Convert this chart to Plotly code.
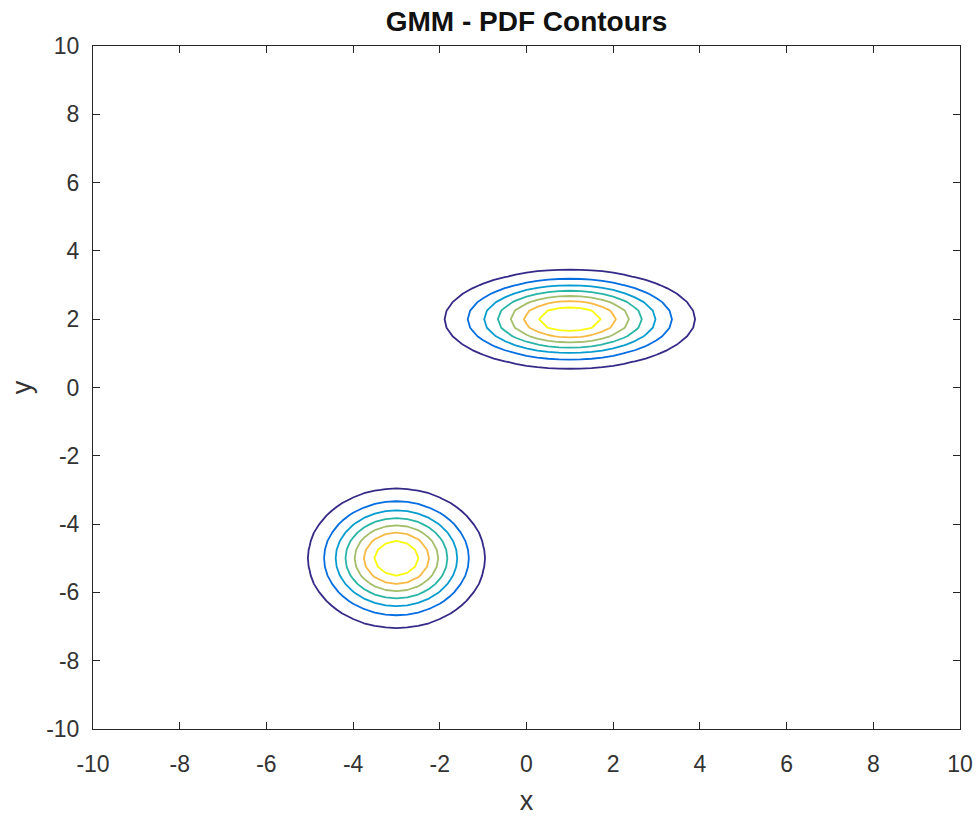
import numpy as np
import plotly.graph_objects as go

# GMM parameters
weights = [0.5, 0.5]
mean_x = [1.0, -3.0]
mean_y = [2.0, -5.0]
var_x = [2.0, 1.0]
var_y = [0.5, 1.0]

# contour levels (MATLAB auto levels)
level_start = 0.01
level_end = 0.07
level_step = 0.01

x_ticks = [-10, -8, -6, -4, -2, 0, 2, 4, 6, 8, 10]
y_ticks = [-10, -8, -6, -4, -2, 0, 2, 4, 6, 8, 10]

gx = np.linspace(-10, 10, 81)
gy = np.linspace(-10, 10, 81)
X, Y = np.meshgrid(gx, gy)
Z = np.zeros_like(X)
for w, mx, my, vx, vy in zip(weights, mean_x, mean_y, var_x, var_y):
    Z += w / (2 * np.pi * np.sqrt(vx * vy)) * np.exp(-0.5 * ((X - mx) ** 2 / vx + (Y - my) ** 2 / vy))

parula = [
    [0.0, "rgb(53,42,135)"],
    [1/6, "rgb(4,109,224)"],
    [2/6, "rgb(7,156,207)"],
    [3/6, "rgb(41,181,165)"],
    [4/6, "rgb(165,190,107)"],
    [5/6, "rgb(248,186,68)"],
    [1.0, "rgb(249,251,14)"],
]

fig = go.Figure(go.Contour(
    x=gx, y=gy, z=Z,
    contours=dict(coloring="lines", start=level_start, end=level_end, size=level_step, showlabels=False),
    colorscale=parula, zmin=level_start, zmax=level_end,
    line=dict(width=1.8, smoothing=0),
    showscale=False, hoverinfo="skip",
))

FONT = "Liberation Sans, Arial, sans-serif"
axis_common = dict(
    showgrid=False, zeroline=False, showline=True, linecolor="#262626", linewidth=1,
    mirror="ticks", ticks="inside", ticklen=7, tickcolor="#262626", automargin=False,
    tickfont=dict(family=FONT, size=23, color="#333333"),
    title_font=dict(family=FONT, size=27, color="#333333"),
)
fig.update_xaxes(range=[-10, 10], tickvals=x_ticks, ticktext=[str(v) for v in x_ticks],
                 title_text="x", ticklabelstandoff=14, title_standoff=23, **axis_common)
fig.update_yaxes(range=[-10, 10], tickvals=y_ticks, ticktext=[str(v) for v in y_ticks],
                 title_text="y", ticklabelstandoff=8, title_standoff=6, **axis_common)

W, H = 978, 816
fig.update_layout(
    width=W, height=H,
    margin=dict(l=93, r=18, t=46, b=87),
    paper_bgcolor="white", plot_bgcolor="white",
    title=dict(text="<b>GMM - PDF Contours</b>", x=(93 + 960) / 2 / W, xanchor="center",
               y=1 - 21 / H, yanchor="middle",
               font=dict(family=FONT, size=28, color="#111111")),
    showlegend=False,
)

fig.write_html("out.html", config={"displayModeBar": False},
               post_script="document.body.style.margin='0px';")
